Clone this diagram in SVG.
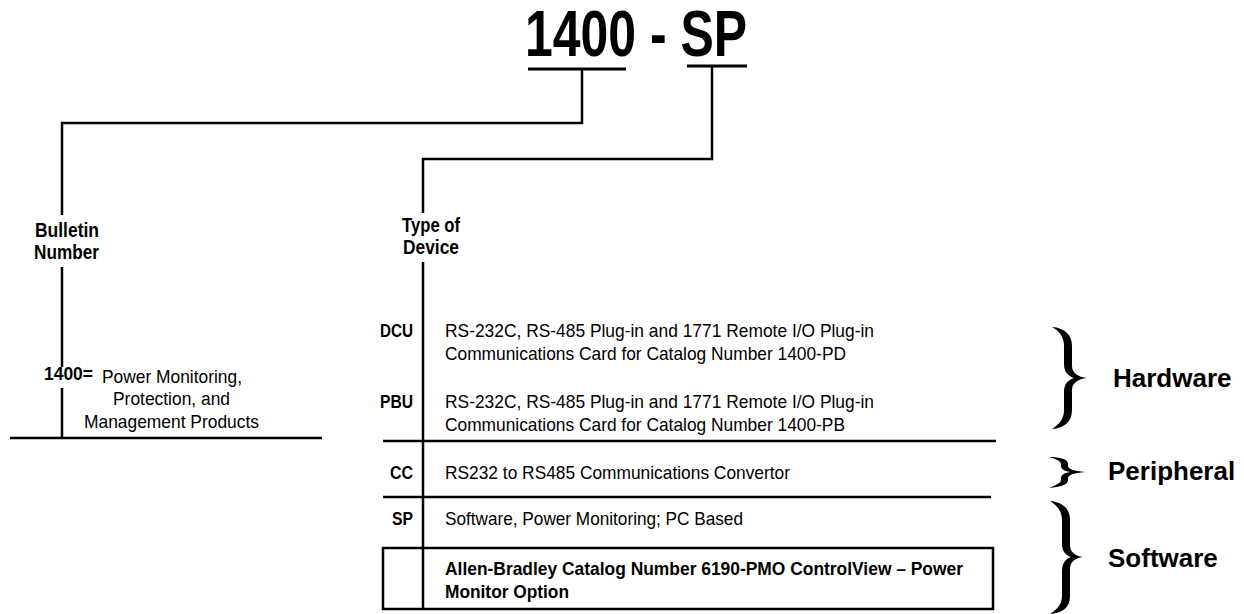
<svg xmlns="http://www.w3.org/2000/svg" width="1244" height="614" viewBox="0 0 1244 614">
<style>
.t{font-family:"Liberation Sans",Arial,sans-serif;fill:#000}
.r{font-size:19px}
.b{font-size:19px;font-weight:bold}
.lb{font-size:20px;font-weight:bold}
.big{font-size:26px;font-weight:bold}
.ln{stroke:#000;stroke-width:2.5;fill:none}
.br{fill:#000;stroke:none}
</style>
<rect width="1244" height="614" fill="#fff"/>
<g id="title">
<text class="t" x="525" y="56" style="font-size:64px;font-weight:bold" textLength="222" lengthAdjust="spacingAndGlyphs">1400 - SP</text>
</g>
<g id="connectors">
<line class="ln" x1="528" y1="69" x2="626" y2="69" style="stroke-width:3"/>
<line class="ln" x1="687" y1="66" x2="747" y2="66" style="stroke-width:3"/>
<polyline class="ln" points="582,69 582,123 62,123 62,215"/>
<line class="ln" x1="62" y1="267" x2="62" y2="367"/>
<line class="ln" x1="62" y1="388" x2="62" y2="438"/>
<line class="ln" x1="10" y1="438" x2="322" y2="438"/>
<polyline class="ln" points="712,66 712,159 423,159 423,213"/>
<line class="ln" x1="423" y1="262" x2="423" y2="609"/>
<line class="ln" x1="383" y1="441" x2="996" y2="441"/>
<line class="ln" x1="383" y1="497" x2="991" y2="497"/>
<rect class="ln" x="383" y="548" width="610" height="61"/>
</g>
<g id="bulletin">
<text class="t lb" x="35" y="237" textLength="64" lengthAdjust="spacingAndGlyphs">Bulletin</text>
<text class="t lb" x="34" y="259" textLength="65" lengthAdjust="spacingAndGlyphs">Number</text>
</g>
<g id="bulletin-value">
<text class="t b" x="44" y="380" textLength="49" lengthAdjust="spacingAndGlyphs">1400=</text>
<text class="t r" x="102" y="383" textLength="140" lengthAdjust="spacingAndGlyphs">Power Monitoring,</text>
<text class="t r" x="113" y="405" textLength="117" lengthAdjust="spacingAndGlyphs">Protection, and</text>
<text class="t r" x="84" y="428" textLength="175" lengthAdjust="spacingAndGlyphs">Management Products</text>
</g>
<g id="type-of-device">
<text class="t lb" x="402" y="232" textLength="58" lengthAdjust="spacingAndGlyphs">Type of</text>
<text class="t lb" x="403" y="254" textLength="56" lengthAdjust="spacingAndGlyphs">Device</text>
</g>
<g id="row-dcu">
<text class="t b" x="413" y="337" text-anchor="end" textLength="33" lengthAdjust="spacingAndGlyphs">DCU</text>
<text class="t r" x="445" y="337" textLength="429" lengthAdjust="spacingAndGlyphs">RS-232C, RS-485 Plug-in and 1771 Remote I/O Plug-in</text>
<text class="t r" x="445" y="360" textLength="401" lengthAdjust="spacingAndGlyphs">Communications Card for Catalog Number 1400-PD</text>
</g>
<g id="row-pbu">
<text class="t b" x="413" y="408" text-anchor="end" textLength="33" lengthAdjust="spacingAndGlyphs">PBU</text>
<text class="t r" x="445" y="408" textLength="429" lengthAdjust="spacingAndGlyphs">RS-232C, RS-485 Plug-in and 1771 Remote I/O Plug-in</text>
<text class="t r" x="445" y="431" textLength="400" lengthAdjust="spacingAndGlyphs">Communications Card for Catalog Number 1400-PB</text>
</g>
<g id="row-cc">
<text class="t b" x="413" y="479" text-anchor="end" textLength="23" lengthAdjust="spacingAndGlyphs">CC</text>
<text class="t r" x="445" y="479" textLength="345" lengthAdjust="spacingAndGlyphs">RS232 to RS485 Communications Convertor</text>
</g>
<g id="row-sp">
<text class="t b" x="413" y="525" text-anchor="end" textLength="21" lengthAdjust="spacingAndGlyphs">SP</text>
<text class="t r" x="445" y="525" textLength="298" lengthAdjust="spacingAndGlyphs">Software, Power Monitoring; PC Based</text>
</g>
<g id="row-ab">
<text class="t b" x="445" y="575" textLength="518" lengthAdjust="spacingAndGlyphs">Allen-Bradley Catalog Number 6190-PMO ControlView – Power</text>
<text class="t b" x="445" y="598" textLength="124" lengthAdjust="spacingAndGlyphs">Monitor Option</text>
</g>
<g id="hardware">
<path class="br" d="M1052,327 C1064,328 1072,334 1072,346 L1072,366 C1072,373 1078,377 1087,378 C1078,379 1072,383 1072,390 L1072,410 C1072,422 1064,428 1052,429 C1060,424 1064,418 1064,410 L1064,392 C1064,384 1068,380 1074,378 C1068,376 1064,372 1064,364 L1064,346 C1064,338 1060,331 1052,327 Z"/>
<text class="t big" x="1113" y="387">Hardware</text>
</g>
<g id="peripheral">
<path class="br" d="M1049,457 C1060,457 1068,459 1068,464 L1068,466 C1068,469 1074,471 1085,472 C1074,473 1068,475 1068,478 L1068,480 C1068,485 1060,487 1049,488 C1056,485 1061,483 1061,480 L1061,478 C1061,475 1064,473 1070,472 C1064,471 1061,469 1061,466 L1061,464 C1061,461 1056,459 1049,457 Z"/>
<text class="t big" x="1108" y="480">Peripheral</text>
</g>
<g id="software">
<path class="br" d="M1050,501 C1062,502 1070,508 1070,520 L1070,545 C1070,552 1075,556 1083,557 C1075,558 1070,562 1070,569 L1070,596 C1070,608 1062,613 1050,614 C1058,609 1062,603 1062,596 L1062,571 C1062,564 1065,559 1071,557 C1065,555 1062,551 1062,543 L1062,520 C1062,512 1058,506 1050,501 Z"/>
<text class="t big" x="1108" y="567">Software</text>
</g>
</svg>
